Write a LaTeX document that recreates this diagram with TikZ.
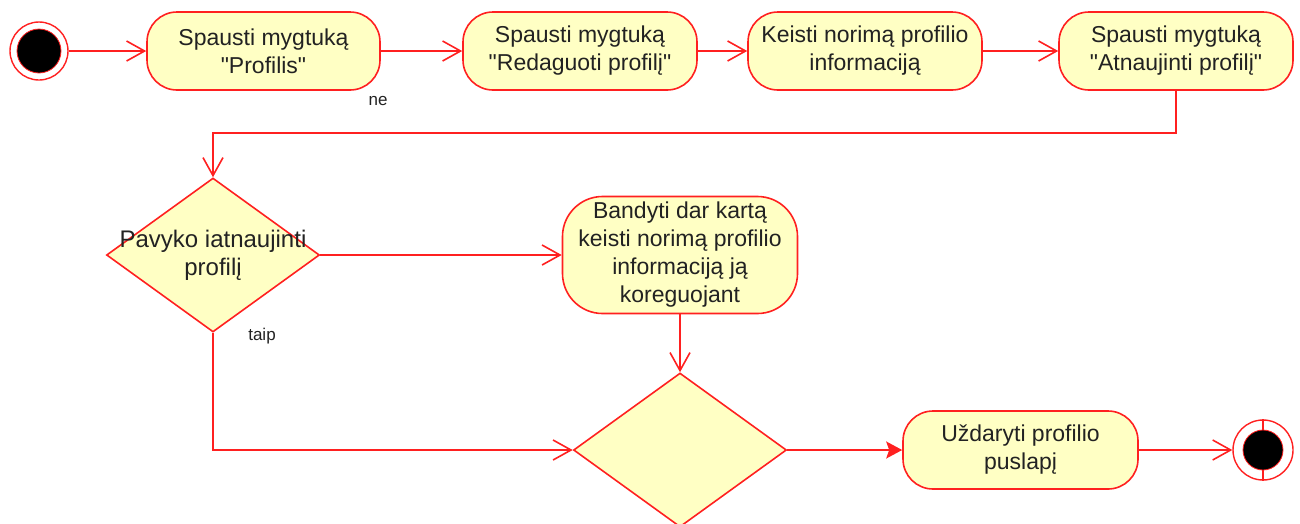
\documentclass[tikz,border=0pt]{standalone}
\usepackage{fontspec}
\setmainfont{Liberation Sans}[Ligatures=TeXOff]
\usetikzlibrary{shapes.geometric,arrows.meta}
\definecolor{umlred}{HTML}{FF2020}
\definecolor{umlfill}{HTML}{FFFFC4}
\definecolor{umltext}{HTML}{222222}
\tikzset{
  act/.style={draw=umlred, fill=umlfill, line width=1.6pt, rounded corners=30pt,
    minimum height=78pt, inner sep=0pt, align=center, text=umltext,
    font=\fontsize{23}{28}\selectfont},
  dec/.style={draw=umlred, fill=umlfill, line width=1.6pt, diamond,
    minimum width=213pt, minimum height=154pt, inner sep=0pt},
  dectext/.style={align=center, text=umltext, font=\fontsize{24}{28}\selectfont},
  lbl/.style={text=umltext, font=\fontsize{17}{20}\selectfont, inner sep=0pt},
  conn/.style={draw=umlred, line width=1.6pt, -{Straight Barb[length=18pt,width=20pt,line width=1.6pt]}},
  connf/.style={draw=umlred, line width=1.6pt, -{Stealth[length=16pt,width=17pt,inset=3pt]}},
}
\begin{document}
\begin{tikzpicture}[x=1pt,y=-1pt]
\useasboundingbox (0,0) rectangle (1300,523);
\begin{scope}
\clip (0,0) rectangle (1300,523);
% start
\node[circle, draw=umlred, line width=1.4pt, fill=white, minimum size=58pt, inner sep=0pt] (start) at (39,51) {};
\node[circle, draw=umlred, line width=0.8pt, fill=black, minimum size=44pt, inner sep=0pt] at (start.center) {};
% top row
\node[act, minimum width=233pt] (b1) at (263.5,51) {Spausti mygtuką\\"Profilis"};
\node[act, minimum width=234pt] (b2) at (580,51) {Spausti mygtuką\\"Redaguoti profilį"};
\node[act, minimum width=234pt] (b3) at (865,51) {Keisti norimą profilio\\informaciją};
\node[act, minimum width=234pt] (b4) at (1176,51) {Spausti mygtuką\\"Atnaujinti profilį"};
% decision 1
\node[dec] (d1) at (213,255) {};
\node[dectext] at (d1.center) {Pavyko iatnaujinti\\profilį};
% retry
\node[act, minimum width=235pt, minimum height=117pt, rounded corners=40pt] (b5) at (680,255) {Bandyti dar kartą\\keisti norimą profilio\\informaciją ją\\koreguojant};
% merge
\node[dec] (d2) at (680,450) {};
% close
\node[act, minimum width=235pt] (b6) at (1020.5,450) {Uždaryti profilio\\puslapį};
% end
\node[circle, draw=umlred, line width=1.4pt, fill=white, minimum size=60pt, inner sep=0pt] (end) at (1263,450) {};
\node[circle, draw=umlred, line width=0.8pt, fill=black, minimum size=40pt, inner sep=0pt] (endin) at (end.center) {};
\draw[umlred, line width=1.2pt] (end.north) -- (endin.north);
\draw[umlred, line width=1.2pt] (end.south) -- (endin.south);
% connectors
\draw[conn] (start.east) -- (b1.west);
\draw[conn] (b1.east) -- (b2.west);
\draw[conn] (b2.east) -- (b3.west);
\draw[conn] (b3.east) -- (b4.west);
\coordinate (c1) at (1176,133);
\coordinate (c2) at (213,133);
\draw[conn] (b4.south) -- (c1) -- (c2) -- (d1.north);
\draw[conn] (d1.east) -- (b5.west);
\draw[conn] (b5.south) -- (d2.north);
\draw[conn] (d1.south) |- (d2.west);
\draw[connf] (d2.east) -- (b6.west);
\draw[conn] (b6.east) -- (end.west);
% labels
\node[lbl] (ne) at (378,101) {ne};
\node[lbl] (taip) at (262,336) {taip};
\end{scope}
\end{tikzpicture}
\end{document}
